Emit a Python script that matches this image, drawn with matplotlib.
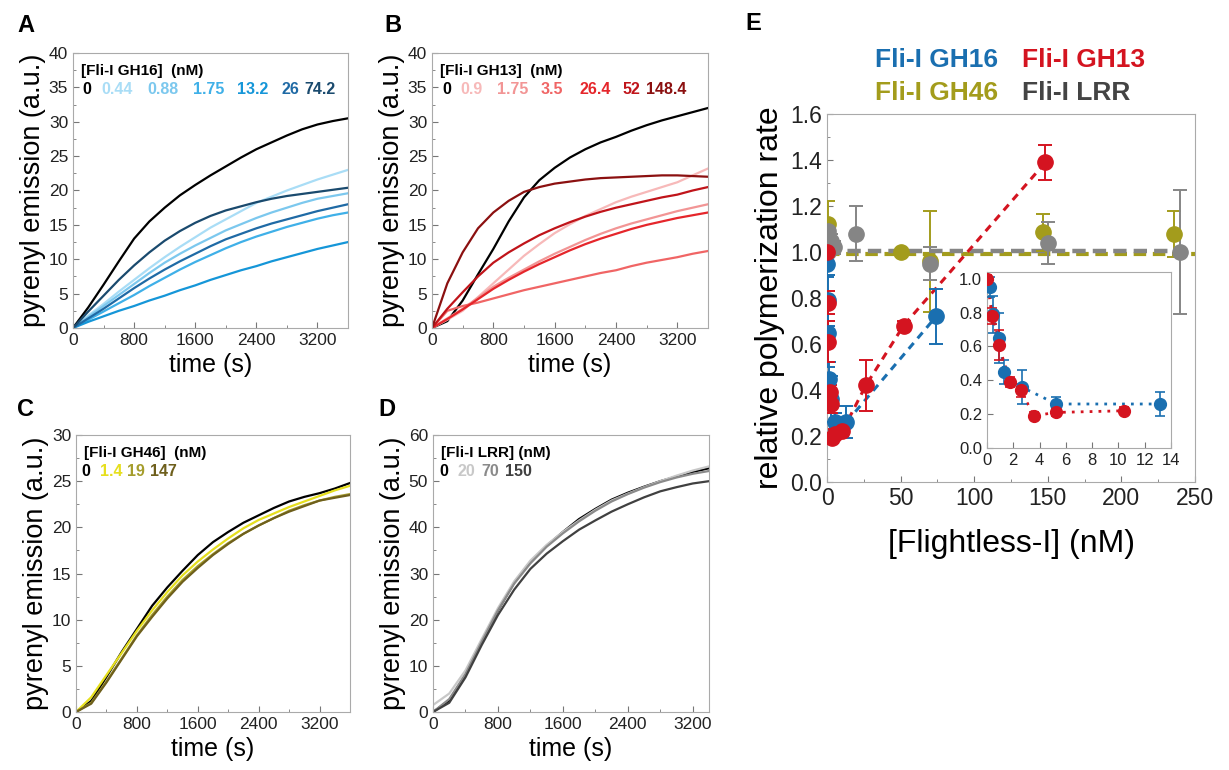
import numpy as np
import matplotlib
matplotlib.use('Agg')
from matplotlib import pyplot as plt
from matplotlib.ticker import MultipleLocator, FormatStrFormatter

plt.rcParams['font.family'] = ['Liberation Sans', 'DejaVu Sans']

# ---- time traces (read every 200 s) ----
t_abc = np.arange(0, 3601, 200)
t_d = np.arange(0, 3401, 200)

a_conc = ['0', '0.44', '0.88', '1.75', '13.2', '26', '74.2']
a_colors = ['#000000', '#a9ddf6', '#7cc8ee', '#3fb0e8', '#1596d8', '#1f6aa5', '#1a4a6e']
a_traces = [
    [0, 3.0, 6.3, 9.7, 13.0, 15.5, 17.5, 19.3, 20.8, 22.2, 23.5, 24.8, 26.0, 27.0, 28.0, 28.9, 29.6, 30.1, 30.5],
    [0, 1.8, 3.5, 5.3, 7.0, 8.7, 10.3, 11.8, 13.2, 14.6, 15.8, 17.0, 18.2, 19.1, 20.0, 20.8, 21.6, 22.3, 23.0],
    [0, 1.6, 3.2, 4.8, 6.4, 8.0, 9.5, 10.8, 12.0, 13.1, 14.2, 15.1, 16.0, 16.8, 17.5, 18.2, 18.8, 19.2, 19.6],
    [0, 1.2, 2.4, 3.6, 4.8, 6.1, 7.3, 8.5, 9.6, 10.6, 11.6, 12.5, 13.3, 14.0, 14.7, 15.3, 15.9, 16.4, 16.8],
    [0, 0.9, 1.7, 2.5, 3.2, 4.0, 4.7, 5.5, 6.2, 7.0, 7.7, 8.4, 9.0, 9.7, 10.3, 10.9, 11.5, 12.0, 12.5],
    [0, 1.4, 2.8, 4.3, 5.8, 7.2, 8.5, 9.7, 10.8, 11.9, 12.9, 13.7, 14.5, 15.2, 15.8, 16.4, 17.0, 17.5, 18.0],
    [0, 2.4, 4.7, 7.0, 9.1, 11.0, 12.7, 14.1, 15.3, 16.3, 17.1, 17.7, 18.3, 18.8, 19.2, 19.5, 19.8, 20.1, 20.4],
]

b_conc = ['0', '0.9', '1.75', '3.5', '26.4', '52', '148.4']
b_colors = ['#000000', '#f7b9b9', '#f29595', '#f06565', '#e5262b', '#c0141a', '#8b1010']
b_traces = [
    [0, 1.0, 4.0, 7.8, 11.5, 15.5, 19.0, 21.5, 23.3, 24.8, 26.0, 27.0, 27.8, 28.7, 29.5, 30.2, 30.8, 31.4, 32.0],
    [0, 1.2, 2.5, 4.5, 6.5, 8.5, 10.5, 12.2, 13.8, 15.1, 16.3, 17.3, 18.3, 19.1, 19.8, 20.5, 21.2, 22.2, 23.2],
    [0, 1.4, 2.8, 4.4, 6.0, 7.3, 8.5, 9.7, 10.8, 11.8, 12.8, 13.7, 14.5, 15.2, 15.8, 16.4, 17.0, 17.5, 18.0],
    [0, 2.5, 3.2, 3.7, 4.3, 4.9, 5.5, 6.0, 6.5, 7.0, 7.5, 8.0, 8.4, 9.0, 9.5, 9.9, 10.3, 10.8, 11.2],
    [0, 1.3, 2.7, 4.2, 5.7, 7.0, 8.2, 9.3, 10.3, 11.3, 12.2, 13.0, 13.7, 14.4, 15.0, 15.5, 16.0, 16.4, 16.8],
    [0, 2.8, 5.2, 7.5, 9.5, 11.0, 12.3, 13.5, 14.5, 15.4, 16.2, 16.9, 17.5, 18.0, 18.5, 19.0, 19.4, 20.0, 20.5],
    [0, 6.5, 11.0, 14.5, 16.8, 18.5, 19.8, 20.5, 21.0, 21.3, 21.6, 21.8, 21.9, 22.0, 22.1, 22.2, 22.2, 22.1, 22.0],
]

c_conc = ['0', '1.4', '19', '147']
c_colors = ['#000000', '#e6df1e', '#a59d2c', '#6e5f1c']
c_traces = [
    [0, 1.2, 3.8, 6.5, 9.0, 11.5, 13.5, 15.3, 17.0, 18.4, 19.5, 20.5, 21.3, 22.1, 22.8, 23.3, 23.7, 24.2, 24.8],
    [0, 1.6, 4.0, 6.4, 8.8, 11.0, 13.0, 14.8, 16.3, 17.6, 18.8, 19.9, 20.8, 21.5, 22.2, 22.8, 23.4, 24.0, 24.5],
    [0, 1.0, 3.3, 5.8, 8.3, 10.5, 12.5, 14.3, 15.8, 17.1, 18.3, 19.3, 20.2, 21.0, 21.8, 22.4, 22.9, 23.3, 23.6],
    [0, 0.9, 3.2, 5.7, 8.2, 10.3, 12.3, 14.1, 15.6, 17.0, 18.2, 19.3, 20.2, 21.0, 21.7, 22.3, 22.9, 23.2, 23.5],
]

d_conc = ['0', '20', '70', '150']
d_colors = ['#000000', '#c8c8c8', '#8a8a8a', '#404040']
d_traces = [
    [0, 2.5, 8.0, 15.0, 22.0, 28.0, 32.5, 36.0, 39.0, 41.8, 44.0, 46.0, 47.5, 48.8, 50.0, 51.0, 52.0, 52.8],
    [1.5, 4.0, 9.0, 15.8, 22.5, 28.3, 32.8, 36.2, 39.0, 41.5, 43.8, 45.8, 47.3, 48.7, 50.0, 51.2, 52.3, 53.2],
    [0, 2.8, 8.2, 15.2, 22.0, 27.8, 32.2, 35.8, 38.7, 41.3, 43.6, 45.6, 47.2, 48.6, 49.8, 50.8, 51.6, 52.2],
    [0, 2.0, 7.5, 14.5, 21.0, 26.5, 31.0, 34.3, 37.0, 39.5, 41.5, 43.4, 45.0, 46.5, 47.8, 48.7, 49.5, 50.0],
]

# ---- panel E: relative rates ----
gh16_x = [0.22, 0.44, 0.88, 1.32, 2.64, 5.28, 13.2, 74.2]
gh16_y = [0.95, 0.79, 0.65, 0.45, 0.36, 0.26, 0.26, 0.72]
gh16_e = [0.06, 0.11, 0.15, 0.07, 0.10, 0.04, 0.07, 0.12]

gh13_x = [0, 0.38, 0.88, 1.77, 2.6, 3.55, 5.22, 10.4, 26.4, 52, 148.4]
gh13_y = [1.0, 0.78, 0.61, 0.39, 0.34, 0.19, 0.21, 0.22, 0.42, 0.68, 1.39]
gh13_e = [0.02, 0.05, 0.09, 0.03, 0.04, 0.02, 0.02, 0.02, 0.11, 0.02, 0.075]

gh46_x = [0.5, 50, 70, 147, 236]
gh46_y = [1.12, 1.0, 0.96, 1.085, 1.08]
gh46_e = [0.10, 0.0, 0.22, 0.08, 0.10]

lrr_x = [0.5, 1, 3, 5, 20, 70, 150, 240]
lrr_y = [1.0, 1.09, 1.05, 1.02, 1.08, 0.95, 1.04, 1.0]
lrr_e = [0.05, 0.03, 0.03, 0.03, 0.12, 0.07, 0.09, 0.27]

blue = '#1a6fb0'
red = '#d41420'
olive = '#a39c1c'
grey = '#858585'

W, H = 1229, 770
fig = plt.figure(figsize=(12.29, 7.70), dpi=100)


def rect(l, t, r, b):
    return [l / W, 1 - b / H, (r - l) / W, (b - t) / H]


def style(ax, size=12.5):
    for s in ax.spines.values():
        s.set_color('#aaaaaa')
    ax.tick_params(which='both', direction='in', colors='#777777', labelcolor='#222222', labelsize=size)
    ax.tick_params(which='major', length=4)
    ax.tick_params(which='minor', length=2.5)


def trace_panel(box, t, traces, colors, conc, title, ymax, ystep, xmax, xpos):
    ax = fig.add_axes(rect(*box))
    for y, c in zip(traces, colors):
        ax.plot(t, y, color=c, lw=1.6)
    ax.set_xlim(0, xmax)
    ax.set_ylim(0, ymax)
    ax.xaxis.set_major_locator(MultipleLocator(800))
    ax.xaxis.set_minor_locator(MultipleLocator(400))
    ax.yaxis.set_major_locator(MultipleLocator(ystep))
    ax.yaxis.set_minor_locator(MultipleLocator(ystep / 2))
    ax.set_xlabel('time (s)', fontsize=18, labelpad=4)
    ax.set_ylabel('pyrenyl emission (a.u.)', fontsize=19.5, labelpad=2)
    style(ax)
    ax.text(0.03, 0.935, title, transform=ax.transAxes, fontsize=11, fontweight='bold', va='center')
    for x, s, c in zip(xpos, conc, colors):
        ax.text(x, 0.868, s, transform=ax.transAxes, fontsize=11.5, fontweight='bold', color=c, va='center')
    return ax


trace_panel((73, 53, 348, 328), t_abc, a_traces, a_colors, a_conc, '[Fli-I GH16]  (nM)', 40, 5, 3600,
            [0.033, 0.105, 0.269, 0.436, 0.596, 0.76, 0.84])
trace_panel((432, 53, 708, 328), t_abc, b_traces, b_colors, b_conc, '[Fli-I GH13]  (nM)', 40, 5, 3600,
            [0.036, 0.103, 0.236, 0.394, 0.533, 0.69, 0.776])
trace_panel((76, 435, 350, 712), t_abc, c_traces, c_colors, c_conc, '[Fli-I GH46]  (nM)', 30, 5, 3600,
            [0.021, 0.088, 0.185, 0.27])
trace_panel((433, 435, 709, 712), t_d, d_traces, d_colors, d_conc, '[Fli-I LRR] (nM)', 60, 10, 3400,
            [0.023, 0.087, 0.177, 0.26])

# ---- panel E ----
ax = fig.add_axes(rect(827, 114, 1195, 482))
ax.plot([0, 250], [0.99, 0.99], color=olive, lw=3, dashes=(3, 1.6), zorder=1)
ax.plot([0, 250], [1.006, 1.006], color=grey, lw=3.2, dashes=(3, 1.6), zorder=1)
gx = np.array(gh16_x)
gy = np.array(gh16_y)
rx = np.array(gh13_x)
ry = np.array(gh13_y)
ax.plot(gx[gx >= 13], gy[gx >= 13], color=blue, lw=2.2, dashes=(2.5, 2), zorder=2)
ax.plot(rx[rx >= 10], ry[rx >= 10], color=red, lw=2.2, dashes=(2.5, 2), zorder=2)
kw = dict(fmt='o', ms=11, capsize=5, elinewidth=1.4, capthick=1.4, zorder=3)
ax.errorbar(gh46_x, gh46_y, yerr=gh46_e, color=olive, **kw)
ax.errorbar(lrr_x, lrr_y, yerr=lrr_e, color=grey, **kw)
ax.errorbar(gh16_x, gh16_y, yerr=gh16_e, color=blue, **kw)
ax.errorbar(gh13_x, gh13_y, yerr=gh13_e, color=red, **kw)
ax.set_xlim(0, 250)
ax.set_ylim(0, 1.6)
ax.xaxis.set_major_locator(MultipleLocator(50))
ax.xaxis.set_minor_locator(MultipleLocator(25))
ax.yaxis.set_major_locator(MultipleLocator(0.2))
ax.yaxis.set_minor_locator(MultipleLocator(0.1))
ax.yaxis.set_major_formatter(FormatStrFormatter('%.1f'))
ax.set_xlabel('[Flightless-I] (nM)', fontsize=23, labelpad=14)
ax.set_ylabel('relative polymerization rate', fontsize=23, labelpad=4)
style(ax, 16.5)

# inset
ins = fig.add_axes(rect(987, 272, 1171, 448))
m16 = gx <= 14
m13 = rx <= 14
ins.plot(gx[m16], gy[m16], color=blue, lw=2, ls=(0, (1, 2.2)))
ins.plot(rx[m13], ry[m13], color=red, lw=2, ls=(0, (1, 2.2)))
kw2 = dict(fmt='o', ms=8.5, capsize=3.5, elinewidth=1.2, capthick=1.2, zorder=3)
ins.errorbar(gx[m16], gy[m16], yerr=np.array(gh16_e)[m16], color=blue, **kw2)
ins.errorbar(rx[m13], ry[m13], yerr=np.array(gh13_e)[m13], color=red, **kw2)
ins.set_xlim(0, 14)
ins.set_ylim(0, 1.04)
ins.xaxis.set_major_locator(MultipleLocator(2))
ins.yaxis.set_major_locator(MultipleLocator(0.2))
ins.yaxis.set_major_formatter(FormatStrFormatter('%.1f'))
style(ins, 12)

# legend text of E
fig.text(875 / W, 1 - 60 / H, 'Fli-I GH16', color=blue, fontsize=19, fontweight='bold', va='center')
fig.text(1022 / W, 1 - 60 / H, 'Fli-I GH13', color=red, fontsize=19, fontweight='bold', va='center')
fig.text(875 / W, 1 - 93 / H, 'Fli-I GH46', color=olive, fontsize=19, fontweight='bold', va='center')
fig.text(1022 / W, 1 - 93 / H, 'Fli-I LRR', color='#444444', fontsize=19, fontweight='bold', va='center')

# panel letters
for x, y, s in [(17, 25, 'A'), (384, 25, 'B'), (17, 410, 'C'), (378, 410, 'D'), (745, 24, 'E')]:
    fig.text(x / W, 1 - y / H, s, fontsize=17, fontweight='bold', va='center')

fig.savefig('out.png', dpi=100)
